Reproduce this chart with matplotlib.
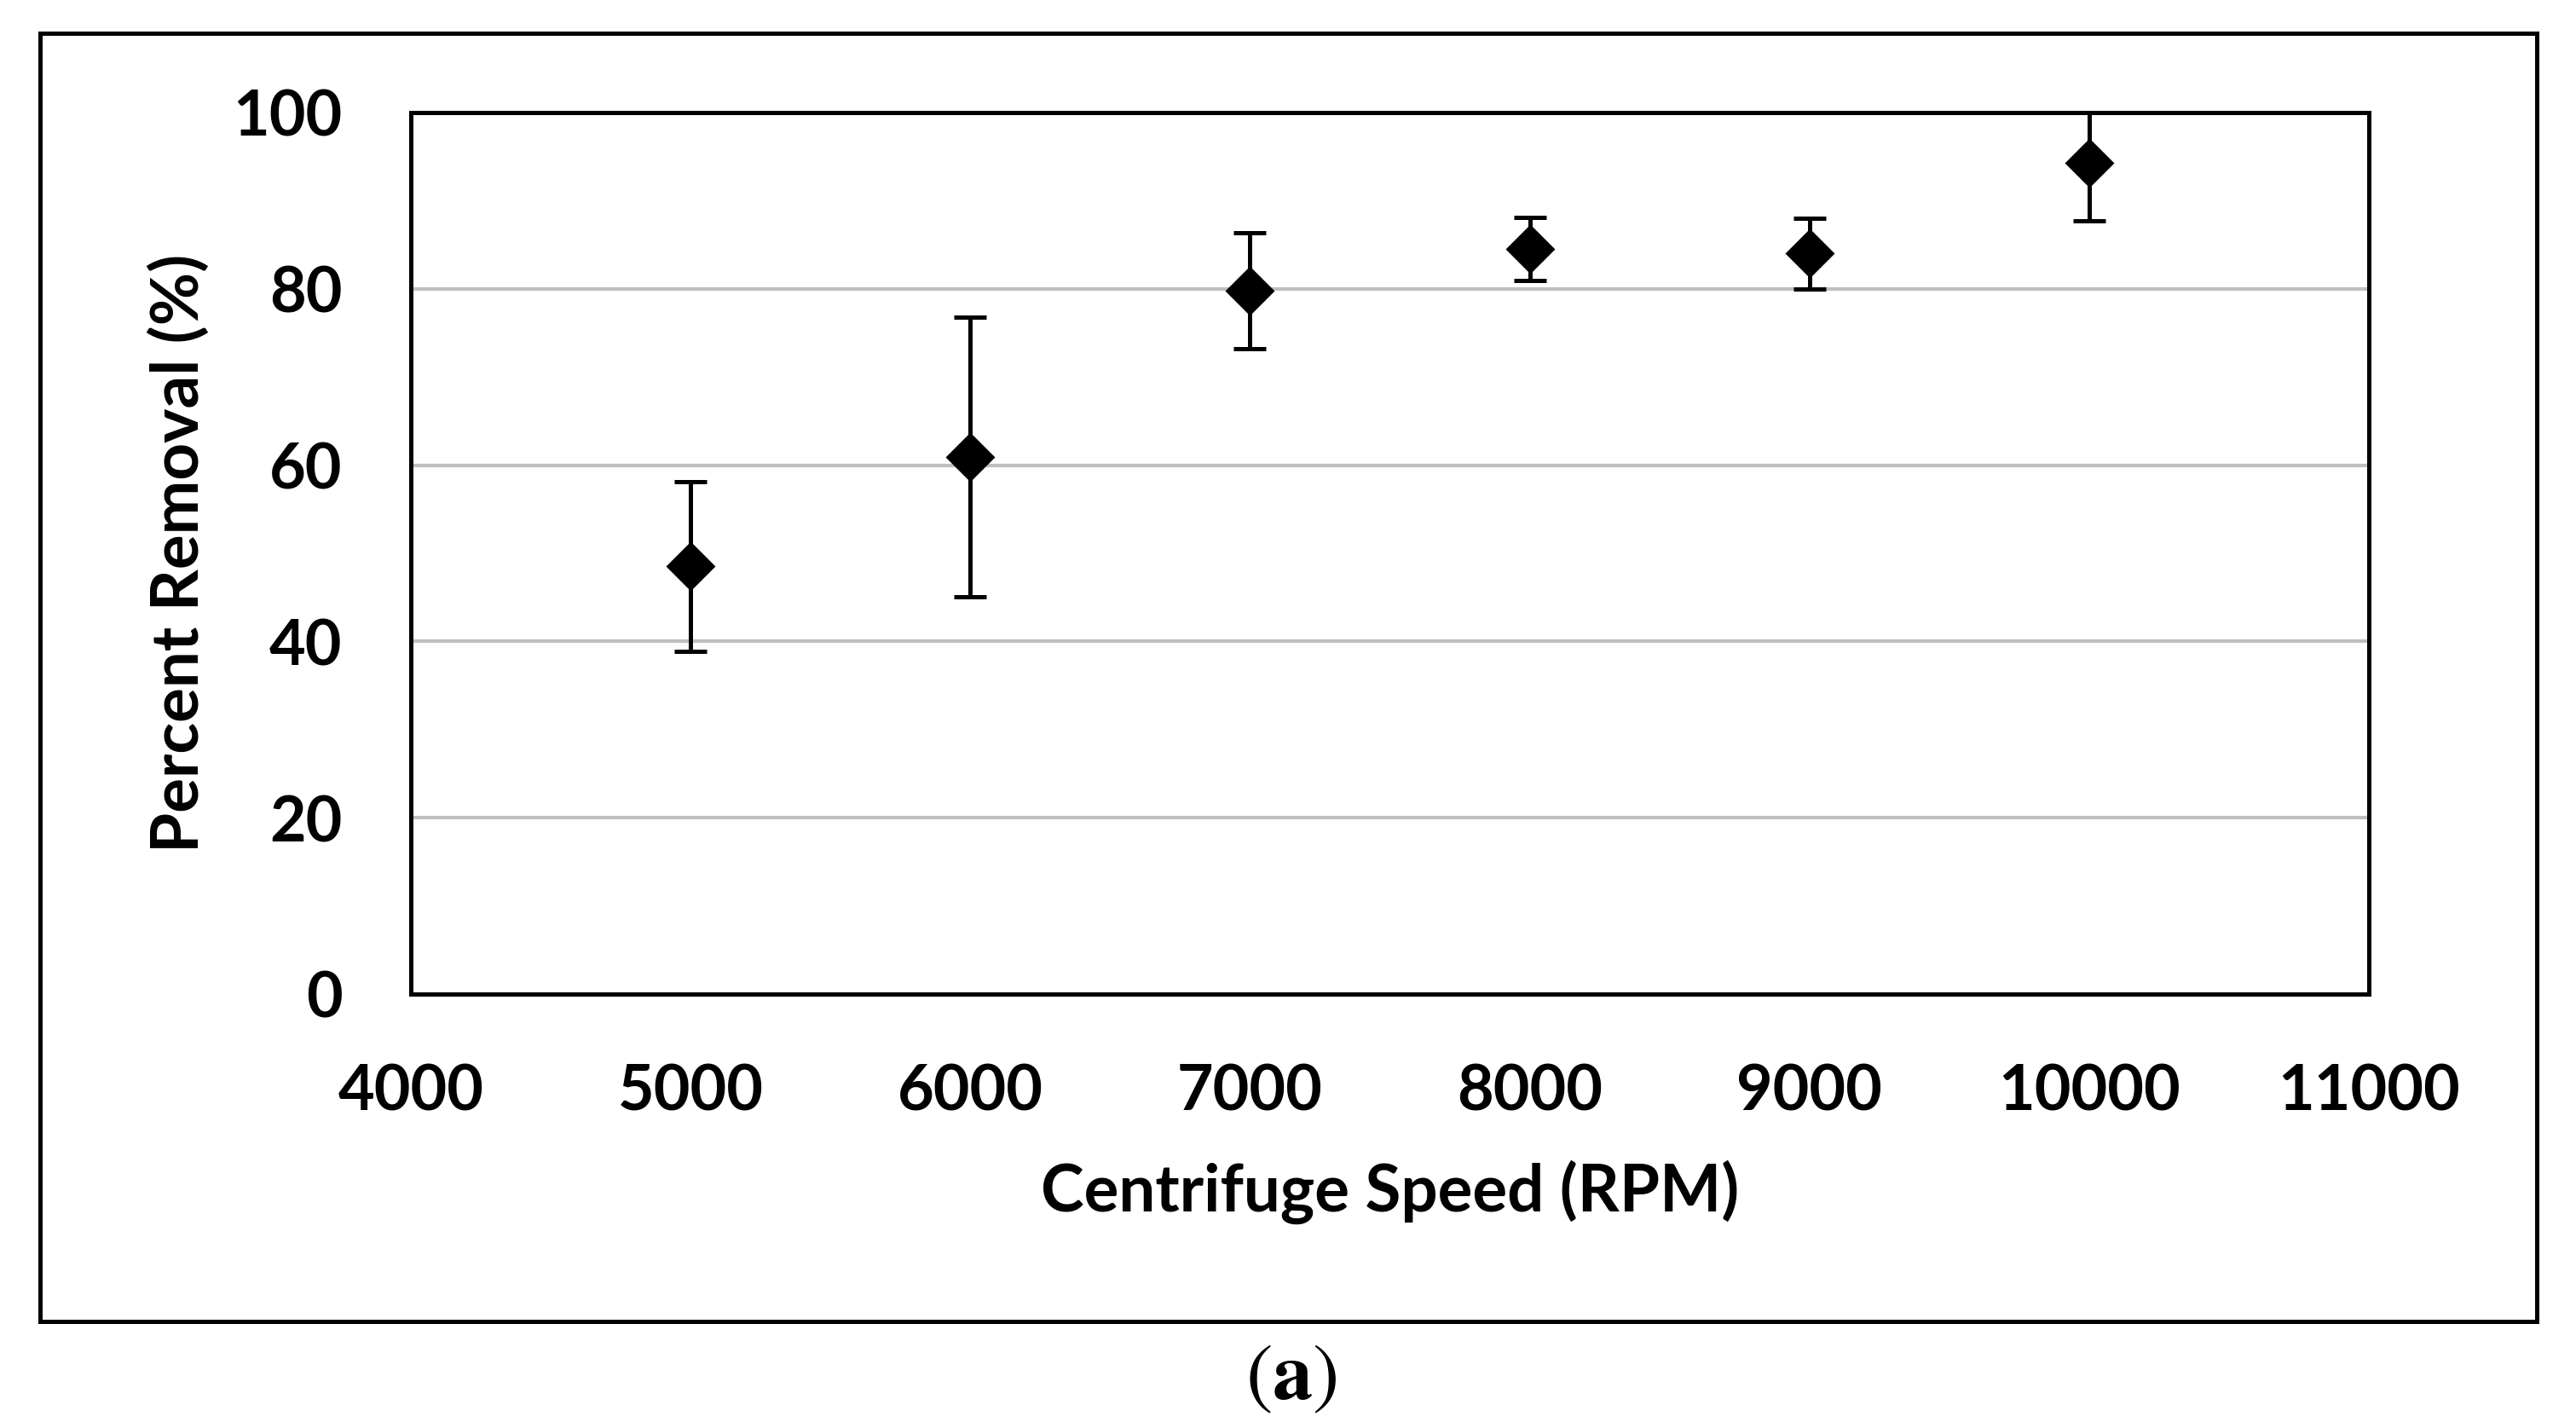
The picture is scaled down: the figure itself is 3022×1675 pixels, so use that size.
import matplotlib
matplotlib.use("Agg")
import matplotlib.pyplot as plt
from matplotlib.patches import Rectangle

# data
speed = [5000, 6000, 7000, 8000, 9000, 10000]
removal = [48.5, 60.9, 79.8, 84.5, 84.0, 94.3]
err = [9.65, 15.85, 6.6, 3.6, 4.0, 6.6]

x_ticks = [4000, 5000, 6000, 7000, 8000, 9000, 10000, 11000]
y_ticks = [0, 20, 40, 60, 80, 100]

plt.rcParams['font.family'] = ['Lato', 'DejaVu Sans']
plt.rcParams['mathtext.fontset'] = 'stix'

fig = plt.figure(figsize=(15.11, 8.375), dpi=200)
ax = fig.add_axes([0.1595, 0.3039, 0.7601, 0.6173])

ax.errorbar(speed, removal, yerr=err, fmt='D', color='black',
            markersize=13.8, markerfacecolor='black', markeredgecolor='black',
            ecolor='black', elinewidth=1.8, capsize=7, capthick=1.8, zorder=3)

ax.set_xlim(4000, 11000)
ax.set_ylim(0, 100)
ax.set_xticks(x_ticks)
ax.set_yticks(y_ticks)
ax.tick_params(length=0, labelsize=26.5, pad=29)
for lbl in ax.get_xticklabels() + ax.get_yticklabels():
    lbl.set_fontweight('bold')

ax.grid(axis='y', color='#bfbfbf', linewidth=1.5, zorder=0)
ax.set_axisbelow(True)
for s in ax.spines.values():
    s.set_linewidth(1.8)
    s.set_color('black')

ax.set_xlabel('Centrifuge Speed (RPM)', fontsize=27.5, fontweight='bold')
ax.set_ylabel('Percent Removal (%)', fontsize=27.5, fontweight='bold')
ax.xaxis.set_label_coords(0.5, -0.2244)
ax.xaxis.label.set_va('center')
ax.yaxis.set_label_coords(-0.1184, 0.5)
ax.yaxis.label.set_va('center')

# outer frame around the chart
fig.patches.append(Rectangle((0.01555, 0.0746), 0.96923, 0.9021,
                             transform=fig.transFigure, fill=False,
                             edgecolor='black', linewidth=1.8))

fig.text(0.5013, 0.034, r'$(\mathbf{a})$', ha='center', va='center', fontsize=34)

fig.savefig('out.png', dpi=200)
